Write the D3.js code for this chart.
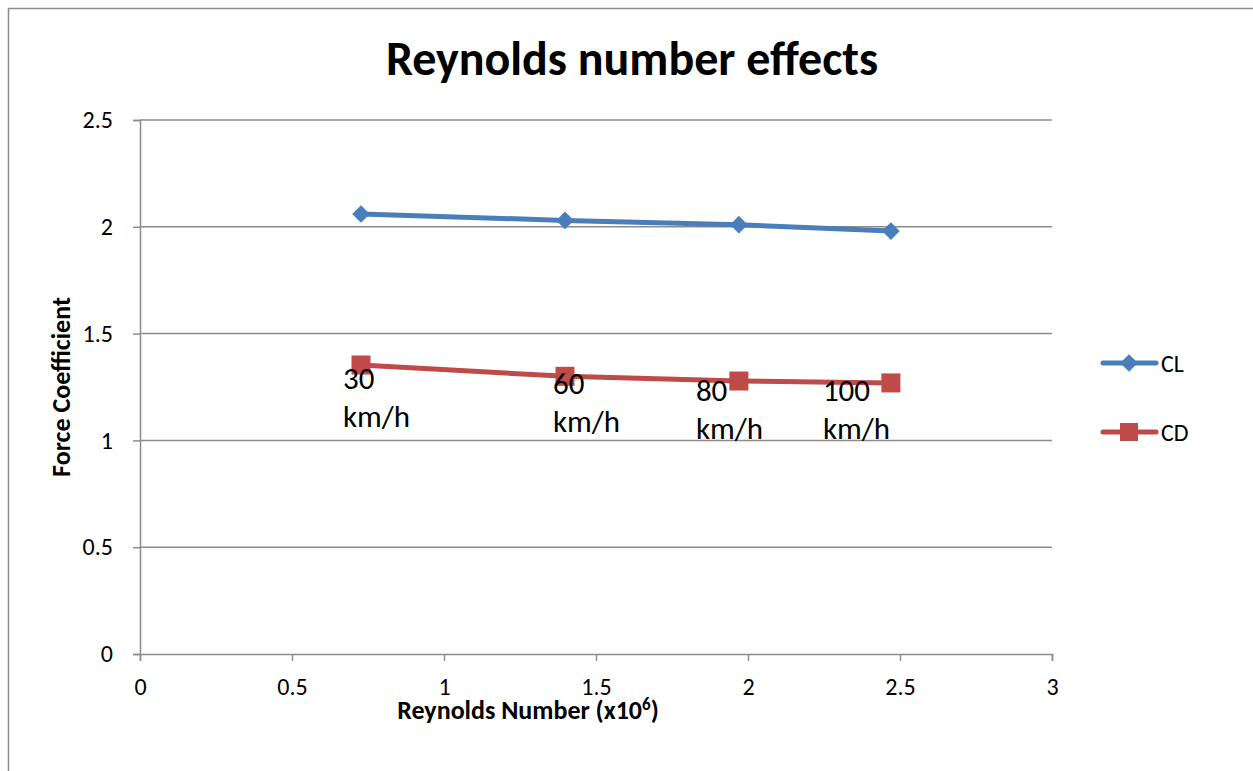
<!DOCTYPE html>
<html>
<head>
<meta charset="utf-8">
<script src="https://cdn.jsdelivr.net/npm/d3@7"></script>
<style>
  body { margin: 0; background: #fff; }
  text { font-family: Calibri, Carlito, "Open Sans", "Noto Sans", sans-serif; }
</style>
</head>
<body>
<div id="chart"></div>
<script>
// Reynolds number (x10^6) at the four test speeds
var reynolds = [0.727, 1.398, 1.970, 2.470]
var clValues = [2.06, 2.03, 2.01, 1.98]
var cdValues = [1.353, 1.30, 1.278, 1.269]
var speedLabels = ["30", "60", "80", "100"]
var xTicks = [0, 0.5, 1, 1.5, 2, 2.5, 3]
var yTicks = [0, 0.5, 1, 1.5, 2, 2.5]
// where each speed label sits relative to its CD point (px)
var labelShift = [[-18, 24], [-12, 18], [-43, 20], [-68, 18]]

var width = 1253, height = 771
var margin = { left: 140, right: 201, top: 120, bottom: 117 }

var svg = d3.select("#chart").append("svg")
    .attr("width", width)
    .attr("height", height)

// outer chart border (only left and top show)
svg.append("path")
    .attr("d", "M8.5," + height + "V8.5H" + width)
    .attr("fill", "none")
    .attr("stroke", "#8c8c8c")
    .attr("stroke-width", 1.5)

var x = d3.scaleLinear().domain([0, 3]).range([margin.left, width - margin.right])
var y = d3.scaleLinear().domain([0, 2.5]).range([height - margin.bottom, margin.top])

// gridlines
svg.append("g")
    .selectAll("line")
    .data(yTicks.slice(1))
    .enter()
    .append("line")
    .attr("x1", x(0))
    .attr("x2", x(3))
    .attr("y1", function (d) { return y(d) })
    .attr("y2", function (d) { return y(d) })
    .attr("stroke", "#8c8c8c")
    .attr("stroke-width", 1.5)

var yAxis = svg.append("g")
    .attr("transform", "translate(" + x(0) + ",0)")
    .call(d3.axisLeft(y).tickValues(yTicks).tickSize(7).tickPadding(20)
        .tickFormat(function (d) { return d }))
var xAxis = svg.append("g")
    .attr("transform", "translate(0," + y(0) + ")")
    .call(d3.axisBottom(x).tickValues(xTicks).tickSize(7).tickPadding(17)
        .tickFormat(function (d) { return d }))

svg.selectAll(".domain")
    .attr("stroke", "#8c8c8c")
    .attr("stroke-width", 1.5)
svg.selectAll(".tick line")
    .attr("stroke", "#8c8c8c")
    .attr("stroke-width", 1.5)
svg.selectAll(".tick text")
    .attr("fill", "#000")
    .style("font-size", "24px")
    .style("font-family", "Calibri, Carlito, 'Open Sans', 'Noto Sans', sans-serif")

// title
svg.append("text")
    .attr("x", 632)
    .attr("y", 75)
    .attr("text-anchor", "middle")
    .style("font-size", "48px")
    .style("font-weight", "bold")
    .text("Reynolds number effects")

// axis titles
svg.append("text")
    .attr("transform", "translate(70," + ((y(0) + y(2.5)) / 2) + ") rotate(-90)")
    .attr("text-anchor", "middle")
    .style("font-size", "26px")
    .style("font-weight", "bold")
    .text("Force Coefficient")

var xTitle = svg.append("text")
    .attr("x", 528)
    .attr("y", 719)
    .attr("text-anchor", "middle")
    .style("font-size", "26px")
    .style("font-weight", "bold")
xTitle.append("tspan").text("Reynolds Number (x10")
xTitle.append("tspan").attr("dy", -9).style("font-size", "17px").text("6")
xTitle.append("tspan").attr("dy", 9).text(")")

var line = d3.line()
    .x(function (d) { return x(d[0]) })
    .y(function (d) { return y(d[1]) })

var clData = d3.zip(reynolds, clValues)
var cdData = d3.zip(reynolds, cdValues)

var blue = "#4a7ebb", red = "#be4b48"
var diamond = d3.symbol().type(d3.symbolDiamond2).size(200)

svg.append("path")
    .datum(clData)
    .attr("d", line)
    .attr("fill", "none")
    .attr("stroke", blue)
    .attr("stroke-width", 5)
svg.selectAll(".cl-pt")
    .data(clData)
    .enter()
    .append("path")
    .attr("class", "cl-pt")
    .attr("d", diamond)
    .attr("transform", function (d) { return "translate(" + x(d[0]) + "," + y(d[1]) + ")" })
    .attr("fill", blue)

svg.append("path")
    .datum(cdData)
    .attr("d", line)
    .attr("fill", "none")
    .attr("stroke", red)
    .attr("stroke-width", 5)
svg.selectAll(".cd-pt")
    .data(cdData)
    .enter()
    .append("rect")
    .attr("class", "cd-pt")
    .attr("x", function (d) { return x(d[0]) - 9.5 })
    .attr("y", function (d) { return y(d[1]) - 9.5 })
    .attr("width", 19)
    .attr("height", 19)
    .attr("fill", red)

// speed labels
var labels = svg.selectAll(".speed")
    .data(cdData)
    .enter()
    .append("text")
    .attr("class", "speed")
    .style("font-size", "31px")
    .attr("fill", "#000")
labels.append("tspan")
    .attr("x", function (d, i) { return x(d[0]) + labelShift[i][0] })
    .attr("y", function (d, i) { return y(d[1]) + labelShift[i][1] })
    .text(function (d, i) { return speedLabels[i] })
labels.append("tspan")
    .attr("x", function (d, i) { return x(d[0]) + labelShift[i][0] })
    .attr("dy", 38)
    .text("km/h")

// legend
var legend = svg.append("g")
var legendItems = [{ name: "CL", color: blue, ly: 363 }, { name: "CD", color: red, ly: 432 }]
legendItems.forEach(function (item) {
    legend.append("line")
        .attr("x1", 1103).attr("x2", 1156)
        .attr("y1", item.ly).attr("y2", item.ly)
        .attr("stroke", item.color)
        .attr("stroke-width", 5)
        .attr("stroke-linecap", "round")
    if (item.name == "CL") {
        legend.append("path")
            .attr("d", diamond)
            .attr("transform", "translate(1129," + item.ly + ")")
            .attr("fill", item.color)
    } else {
        legend.append("rect")
            .attr("x", 1120).attr("y", item.ly - 9)
            .attr("width", 18).attr("height", 18)
            .attr("fill", item.color)
    }
    legend.append("text")
        .attr("x", 1161)
        .attr("y", item.ly + 9)
        .style("font-size", "24px")
        .text(item.name)
})
</script>
</body>
</html>
